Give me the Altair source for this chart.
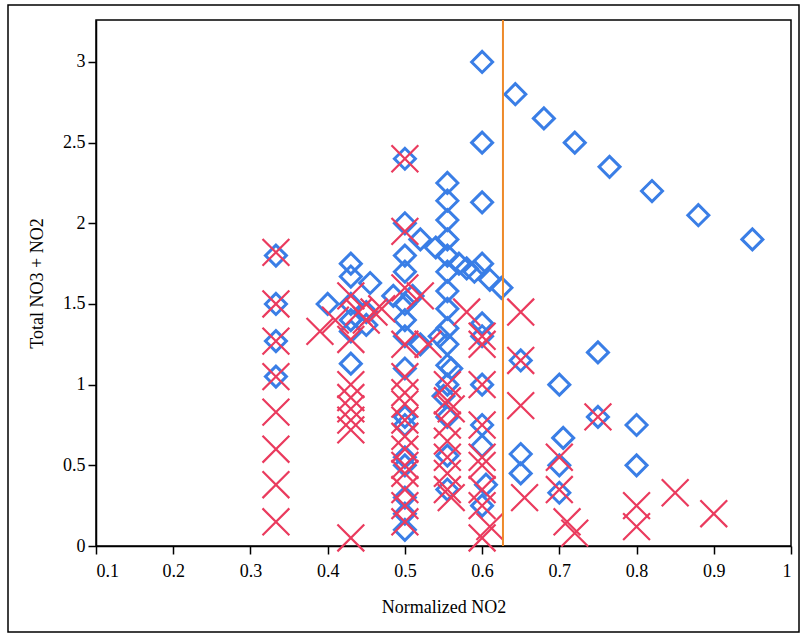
import altair as alt
import pandas as pd

# Blue open diamonds
dia_x = [0.333, 0.333, 0.333, 0.333,
         0.40,
         0.43, 0.43, 0.43, 0.43, 0.43, 0.43,
         0.45, 0.45, 0.455,
         0.485,
         0.50, 0.50, 0.50, 0.50, 0.50, 0.50, 0.50, 0.50, 0.50, 0.50, 0.50, 0.50, 0.50, 0.50, 0.50,
         0.51, 0.52, 0.52,
         0.54, 0.545,
         0.555, 0.555, 0.555, 0.555, 0.555, 0.555, 0.555, 0.555, 0.555, 0.555, 0.555, 0.555, 0.55, 0.555, 0.555, 0.555, 0.56,
         0.57, 0.58, 0.59,
         0.60, 0.60, 0.60, 0.60, 0.60, 0.60, 0.60, 0.60, 0.60, 0.605, 0.60,
         0.61, 0.625,
         0.643, 0.65, 0.65, 0.65,
         0.68, 0.70, 0.705, 0.70, 0.70,
         0.72, 0.75, 0.75, 0.765, 0.80, 0.80, 0.82, 0.88, 0.95]
dia_y = [1.80, 1.50, 1.27, 1.05,
         1.50,
         1.75, 1.67, 1.50, 1.40, 1.33, 1.13,
         1.45, 1.37, 1.63,
         1.55,
         2.40, 2.00, 1.80, 1.70, 1.50, 1.40, 1.30, 1.10, 0.80, 0.75, 0.55, 0.50, 0.30, 0.20, 0.10,
         1.55, 1.90, 1.25,
         1.85, 1.30,
         2.25, 2.14, 2.02, 1.90, 1.80, 1.70, 1.58, 1.47, 1.35, 1.25, 1.12, 1.00, 0.93, 0.80, 0.56, 0.35, 1.10,
         1.75, 1.72, 1.70,
         3.00, 2.50, 2.13, 1.75, 1.38, 1.30, 1.00, 0.75, 0.62, 0.38, 0.25,
         1.65, 1.60,
         2.80, 1.15, 0.57, 0.45,
         2.65, 1.00, 0.67, 0.50, 0.33,
         2.50, 1.20, 0.80, 2.35, 0.75, 0.50, 2.20, 2.05, 1.90]

# Red crosses
crs_x = [0.333, 0.333, 0.333, 0.333, 0.333, 0.333, 0.333, 0.333,
         0.39, 0.41,
         0.43, 0.44, 0.45, 0.43, 0.46,
         0.43, 0.43, 0.43, 0.43, 0.43, 0.43,
         0.47,
         0.50, 0.50, 0.50, 0.50, 0.50, 0.50, 0.50, 0.50, 0.50, 0.50, 0.50, 0.50, 0.50, 0.50, 0.50,
         0.52, 0.53,
         0.555, 0.555, 0.56, 0.555, 0.555, 0.555, 0.555, 0.555, 0.56,
         0.58,
         0.60, 0.60, 0.60, 0.60, 0.60, 0.60, 0.60, 0.60, 0.60, 0.61,
         0.65, 0.65, 0.65, 0.655,
         0.70, 0.70, 0.71, 0.72,
         0.75, 0.80, 0.80, 0.85, 0.90]
crs_y = [1.82, 1.50, 1.27, 1.05, 0.83, 0.60, 0.38, 0.15,
         1.33, 1.40,
         1.55, 1.45, 1.40, 1.28, 1.45,
         1.00, 0.92, 0.85, 0.78, 0.72, 0.05,
         1.47,
         2.40, 1.95, 1.60, 1.25, 1.05, 0.95, 0.88, 0.78, 0.68, 0.60, 0.50, 0.45, 0.35, 0.25, 0.15,
         1.55, 1.25,
         1.00, 0.90, 0.85, 0.75, 0.65, 0.55, 0.45, 0.35, 0.30,
         1.45,
         1.30, 1.25, 1.00, 0.75, 0.55, 0.50, 0.35, 0.25, 0.05, 0.12,
         1.45, 1.15, 0.87, 0.30,
         0.55, 0.35, 0.15, 0.08,
         0.80, 0.25, 0.12, 0.33, 0.20]

threshold = [0.627]
x_ticks = [round(0.1 + 0.05 * i, 2) for i in range(19)]
y_ticks = [0, 0.5, 1, 1.5, 2, 2.5, 3]

dia = pd.DataFrame({"x": dia_x, "y": dia_y})
crs = pd.DataFrame({"x": crs_x, "y": crs_y})
thr = pd.DataFrame({"x": threshold})

W, H = 695, 526
BLUE = "#3a7ee6"
RED = "#ea3b5e"
FONT = "Liberation Serif, Times New Roman, DejaVu Serif, serif"

xscale = alt.Scale(domain=[0.1, 1.0], nice=False, zero=False)
yscale = alt.Scale(domain=[0, 3.26], nice=False)

xaxis = alt.Axis(
    title="Normalized NO2", values=x_ticks, format="~g",
    labelExpr="round(datum.value*20) % 2 == 1 ? '' : datum.label",
    tickSize={"condition": {"test": "round(datum.value*20) % 2 == 1", "value": 4}, "value": 8},
    grid=False, domainColor="black", tickColor="black", domainWidth=1.5, tickWidth=1.5,
    labelFont=FONT, labelFontSize=18, labelColor="black", labelPadding=8,
    titleFont=FONT, titleFontSize=18, titleFontWeight="normal", titleColor="black", titlePadding=18,
)
yaxis = alt.Axis(
    title="Total NO3 + NO2", values=y_ticks, format="~g", grid=False,
    domainColor="black", tickColor="black", domainWidth=1.5, tickWidth=1.5, tickSize=8,
    labelFont=FONT, labelFontSize=18, labelColor="black", labelPadding=3,
    titleFont=FONT, titleFontSize=18, titleFontWeight="normal", titleColor="black", titlePadding=16,
)

frame = alt.Chart(thr).mark_rect(filled=False, stroke="black", strokeWidth=1.5).encode(
    x=alt.value(-88), x2=alt.value(W + 8), y=alt.value(-15), y2=alt.value(H + 86)
)

diamonds = alt.Chart(dia).mark_point(
    shape="diamond", filled=False, size=440, stroke=BLUE, strokeWidth=3, opacity=1
).encode(x=alt.X("x:Q", scale=xscale, axis=xaxis), y=alt.Y("y:Q", scale=yscale, axis=yaxis))

crosses = alt.Chart(crs).mark_point(
    shape="M-1,-1L1,1M-1,1L1,-1", filled=False, size=720, stroke=RED, strokeWidth=2.2, opacity=1
).encode(x=alt.X("x:Q", scale=xscale), y=alt.Y("y:Q", scale=yscale))

rule = alt.Chart(thr).mark_rule(color="#ee8a2a", strokeWidth=2).encode(
    x=alt.X("x:Q", scale=xscale)
)

chart = alt.layer(frame, diamonds, crosses, rule).properties(
    width=W, height=H,
    autosize=alt.AutoSizeParams(type="none"),
    padding={"left": 96, "top": 20, "right": 13, "bottom": 88},
    background="white",
).configure_view(stroke="black", strokeWidth=1.5)

chart.save("out.html", embed_options={"renderer": "svg", "actions": False})
